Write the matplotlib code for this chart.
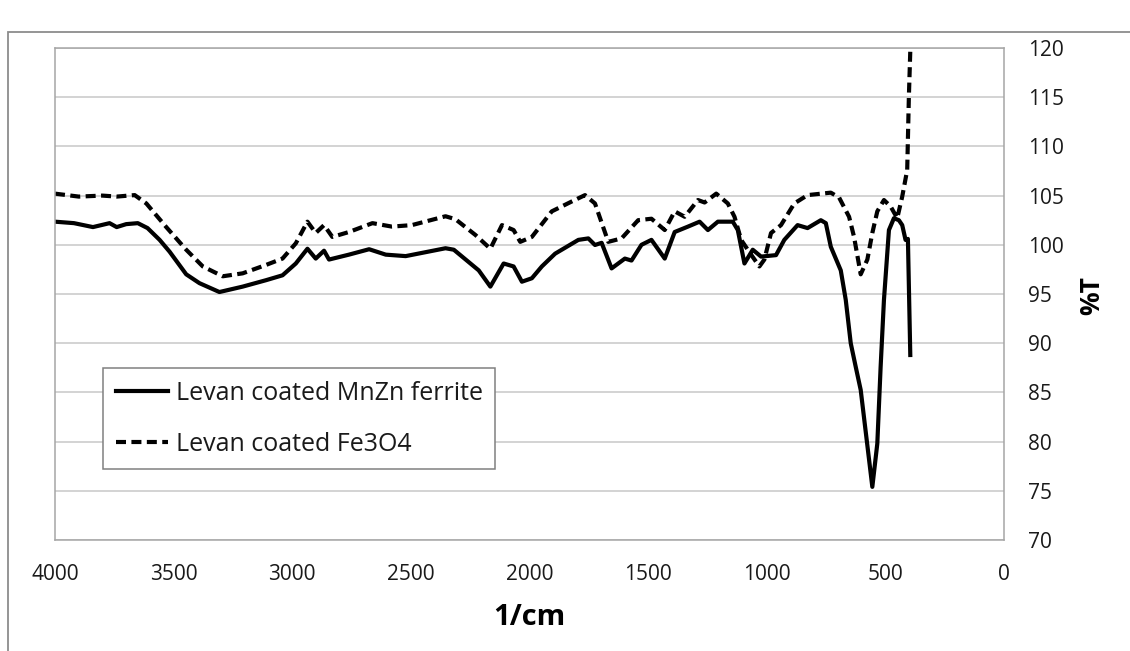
import matplotlib
matplotlib.use("Agg")
import matplotlib.pyplot as plt
from matplotlib.patches import Rectangle

plt.rcParams['font.family'] = ['Open Sans', 'DejaVu Sans']

# Levan coated MnZn ferrite (solid)
mnzn_wn = [4000, 3920, 3840, 3770, 3740, 3700, 3651, 3610, 3559, 3517, 3447, 3391,
           3307, 3209, 3111, 3041, 2985, 2936, 2901, 2866, 2845, 2761, 2676, 2606,
           2522, 2354, 2319, 2214, 2165, 2109, 2067, 2032, 1990, 1948, 1892, 1794,
           1752, 1724, 1696, 1654, 1598, 1570, 1528, 1486, 1430, 1388, 1332, 1283,
           1248, 1206, 1143, 1122, 1094, 1059, 1024, 961, 926, 870, 828, 772, 751,
           730, 688, 667, 646, 625, 604, 555, 534, 520, 506, 485, 464, 443, 429,
           415, 405, 395]
mnzn_t = [102.35, 102.2, 101.8, 102.2, 101.8, 102.1, 102.2, 101.7, 100.5, 99.3, 97.0, 96.1,
          95.2, 95.75, 96.4, 96.9, 98.1, 99.6, 98.6, 99.4, 98.5, 99.0, 99.55, 99.0,
          98.85, 99.65, 99.5, 97.4, 95.75, 98.1, 97.8, 96.25, 96.6, 97.8, 99.1, 100.5,
          100.65, 99.98, 100.2, 97.6, 98.6, 98.4, 100.0, 100.5, 98.6, 101.3, 101.85, 102.35,
          101.5, 102.35, 102.35, 101.5, 98.1, 99.5, 98.8, 98.95, 100.5, 102.0, 101.7, 102.5, 102.2,
          99.8, 97.4, 94.4, 90.0, 87.6, 85.25, 75.4, 79.8, 87.6, 94.4, 101.5, 102.7, 102.5, 102.0,
          100.5, 100.6, 88.8]

# Levan coated Fe3O4 (dashed)
fe_wn = [4000, 3900, 3800, 3740, 3664, 3615, 3531, 3447, 3377, 3293, 3209, 3111,
         3041, 2985, 2936, 2901, 2866, 2831, 2761, 2662, 2580, 2496, 2354, 2312,
         2228, 2165, 2116, 2067, 2039, 1990, 1906, 1822, 1766, 1724, 1668, 1612,
         1542, 1486, 1430, 1388, 1346, 1290, 1262, 1213, 1164, 1136, 1108, 1066,
         1031, 1010, 982, 940, 884, 828, 730, 695, 653, 632, 604, 576, 555, 534,
         506, 478, 450, 429, 408, 401, 394]
fe_t = [105.2, 104.9, 105.0, 104.9, 105.05, 104.2, 101.8, 99.5, 97.8, 96.8, 97.1, 97.95,
        98.6, 100.15, 102.35, 101.2, 102.0, 100.8, 101.3, 102.2, 101.85, 102.0, 102.9, 102.6,
        101.0, 99.6, 102.0, 101.5, 100.3, 100.8, 103.4, 104.4, 105.05, 104.2, 100.3, 100.65,
        102.5, 102.65, 101.5, 103.4, 102.85, 104.55, 104.3, 105.2, 104.2, 102.85, 100.5, 99.0,
        97.8, 98.5, 101.2, 102.0, 104.2, 105.05, 105.3, 104.8, 102.85, 100.8, 97.0, 98.5, 101.2, 103.4,
        104.55, 103.9, 102.7, 104.9, 107.6, 115.0, 120.5]

labels = ["Levan coated MnZn ferrite", "Levan coated Fe3O4"]
x_ticks = [4000, 3500, 3000, 2500, 2000, 1500, 1000, 500, 0]
y_ticks = [70, 75, 80, 85, 90, 95, 100, 105, 110, 115, 120]

W, H = 1130, 651
fig = plt.figure(figsize=(W / 100, H / 100), dpi=100)
ax = fig.add_axes([55 / W, 1 - 540 / H, (1004 - 55) / W, (540 - 48) / H])

ax.plot(mnzn_wn, mnzn_t, color='black', lw=3.0, solid_joinstyle='round',
        label=labels[0])
ax.plot(fe_wn, fe_t, color='black', lw=3.0, linestyle=(0, (2.4, 1.3)),
        label=labels[1])

ax.set_xlim(4000, 0)
ax.set_ylim(70, 120)
ax.set_xticks(x_ticks)
ax.set_xticklabels([str(t) for t in x_ticks])
ax.set_yticks(y_ticks)
ax.set_yticklabels([str(t) for t in y_ticks])
ax.yaxis.tick_right()
ax.tick_params(axis='both', length=0, labelsize=15, colors='#1a1a1a')
ax.tick_params(axis='y', pad=17)
ax.tick_params(axis='x', pad=17)
ax.grid(axis='y', color='#c8c8c8', lw=1.1)
ax.set_axisbelow(True)
for s in ax.spines.values():
    s.set_color('#a6a6a6')
    s.set_linewidth(1.1)

ax.set_xlabel('1/cm', fontsize=21, fontweight='bold', labelpad=13)
fig.text(1092 / W, 1 - 296 / H, '%T', rotation=90, fontsize=19,
         fontweight='bold', ha='center', va='center')

leg = ax.legend(loc='upper left', bbox_to_anchor=(103 / W, 1 - 368 / H),
                bbox_transform=fig.transFigure, borderaxespad=0,
                fontsize=18, handlelength=2.1, handletextpad=0.3,
                labelspacing=1.05, borderpad=0.5, fancybox=False,
                framealpha=1, edgecolor='#808080')
leg.get_frame().set_linewidth(1.1)
for t in leg.get_texts():
    t.set_color('#1a1a1a')

fig.patches.append(Rectangle((8 / W, -0.1), 1.2, 1.1 - 32 / H,
                             transform=fig.transFigure, fill=False,
                             edgecolor='#8c8c8c', lw=1.3))

fig.savefig('out.png', dpi=100)
